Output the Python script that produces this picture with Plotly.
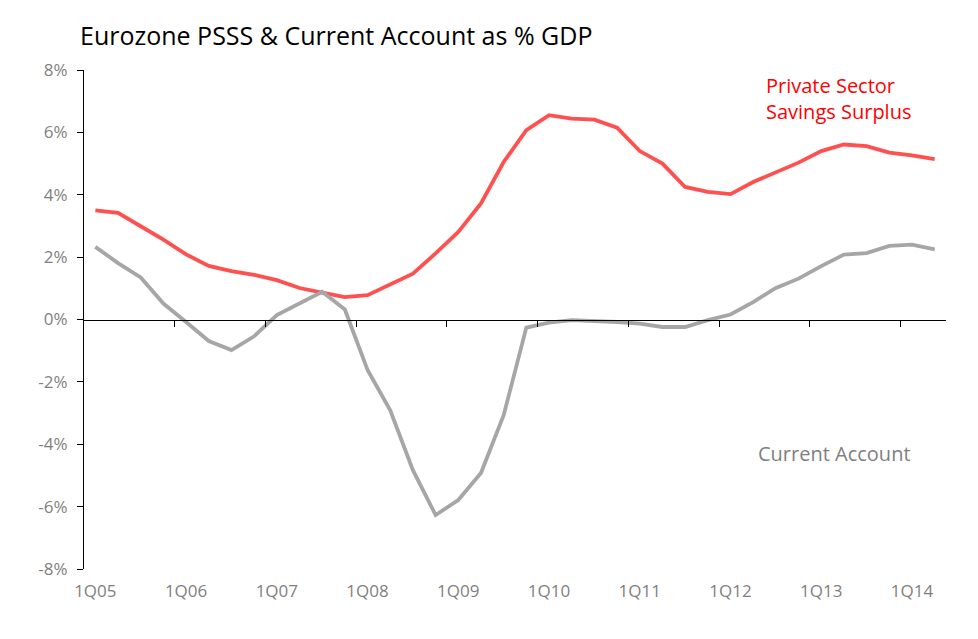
import plotly.graph_objects as go

# quarters 1Q05 .. 2Q14
quarters = [f"{q}Q{y:02d}" for y in range(5, 15) for q in range(1, 5)][:38]

# Private sector savings surplus, % of GDP
psss = [3.50, 3.42, 2.99, 2.56, 2.09, 1.72, 1.55, 1.43, 1.26, 1.01,
        0.86, 0.72, 0.78, 1.12, 1.47, 2.12, 2.81, 3.72, 5.05, 6.07,
        6.55, 6.44, 6.41, 6.15, 5.40, 5.00, 4.25, 4.09, 4.02, 4.41,
        4.73, 5.03, 5.40, 5.61, 5.56, 5.35, 5.26, 5.14]

# Current account, % of GDP
current_account = [2.33, 1.81, 1.35, 0.51, -0.08, -0.69, -0.98, -0.54, 0.14, 0.53,
                   0.89, 0.32, -1.62, -2.91, -4.83, -6.27, -5.79, -4.92, -3.07, -0.26,
                   -0.10, -0.02, -0.04, -0.08, -0.13, -0.24, -0.24, -0.02, 0.16, 0.56,
                   1.01, 1.31, 1.71, 2.08, 2.13, 2.36, 2.40, 2.25]

y_ticks = [-8, -6, -4, -2, 0, 2, 4, 6, 8]

idx = list(range(len(quarters)))
label_pos = [i for i in idx if quarters[i].startswith("1Q")]
tick_pos = [i - 0.5 for i in label_pos[1:]]
xrange = [-0.5, len(quarters) - 0.5]

# page has an 8px body margin, so the figure starts at (8, 8)
W, H = 970, 631
OFF = 8
L, R, T, B = 76, 32, 62, 70


def cx(x):  # container fraction from screen px
    return (x - OFF) / W


def cy(y):
    return 1 - (y - OFF) / H


def ax(x):  # plot-area fraction from screen px
    return (x - OFF - L) / (W - L - R)


def ay(y):
    return 1 - (y - OFF - T) / (H - T - B)


font = "Segoe UI, Open Sans, Noto Sans, sans-serif"
grey_txt = "#7f7f7f"

fig = go.Figure()

fig.add_trace(go.Scatter(
    x=idx, y=current_account, mode="lines",
    line=dict(color="#a6a6a6", width=3.8),
    xaxis="x2", yaxis="y", showlegend=False,
))
fig.add_trace(go.Scatter(
    x=idx, y=psss, mode="lines",
    line=dict(color="#ff5050", width=3.8),
    showlegend=False,
))

fig.update_layout(
    width=W, height=H,
    margin=dict(l=L, r=R, t=T, b=B),
    plot_bgcolor="white", paper_bgcolor="white",
    font=dict(family=font, color=grey_txt, size=17),
    title=dict(text="Eurozone PSSS & Current Account as % GDP",
               x=cx(80), xanchor="left", y=cy(36), yanchor="middle",
               font=dict(size=25, color="black", family=font)),
    xaxis=dict(
        range=xrange, showline=False, showgrid=False, zeroline=False,
        tickmode="array", tickvals=label_pos,
        ticktext=[quarters[i] for i in label_pos],
        ticks="", ticklabelstandoff=10,
        tickfont=dict(size=17, color=grey_txt),
    ),
    xaxis2=dict(
        range=xrange, overlaying="x", anchor="free", position=0.5,
        showline=True, linecolor="black", linewidth=1.2,
        showgrid=False, zeroline=False,
        tickmode="array", tickvals=tick_pos, ticks="outside",
        ticklen=6, tickcolor="black", tickwidth=1.2,
        showticklabels=False, side="bottom",
    ),
    yaxis=dict(
        range=[-8, 8], showline=True, linecolor="black", linewidth=1.2,
        showgrid=False, zeroline=False,
        tickmode="array", tickvals=y_ticks,
        ticktext=[f"{v}%" for v in y_ticks],
        ticks="outside", ticklen=6, tickcolor="black", tickwidth=1.2,
        ticklabelstandoff=6,
        tickfont=dict(size=17, color=grey_txt),
    ),
    annotations=[
        dict(text="Private Sector<br>Savings Surplus", x=ax(764), y=ay(98),
             xref="paper", yref="paper", xanchor="left", yanchor="middle",
             align="left", showarrow=False,
             font=dict(size=20, color="#ff0000", family=font)),
        dict(text="Current Account", x=ax(756), y=ay(453),
             xref="paper", yref="paper", xanchor="left", yanchor="middle",
             align="left", showarrow=False,
             font=dict(size=20, color=grey_txt, family=font)),
    ],
)

fig.write_html("out.html")
